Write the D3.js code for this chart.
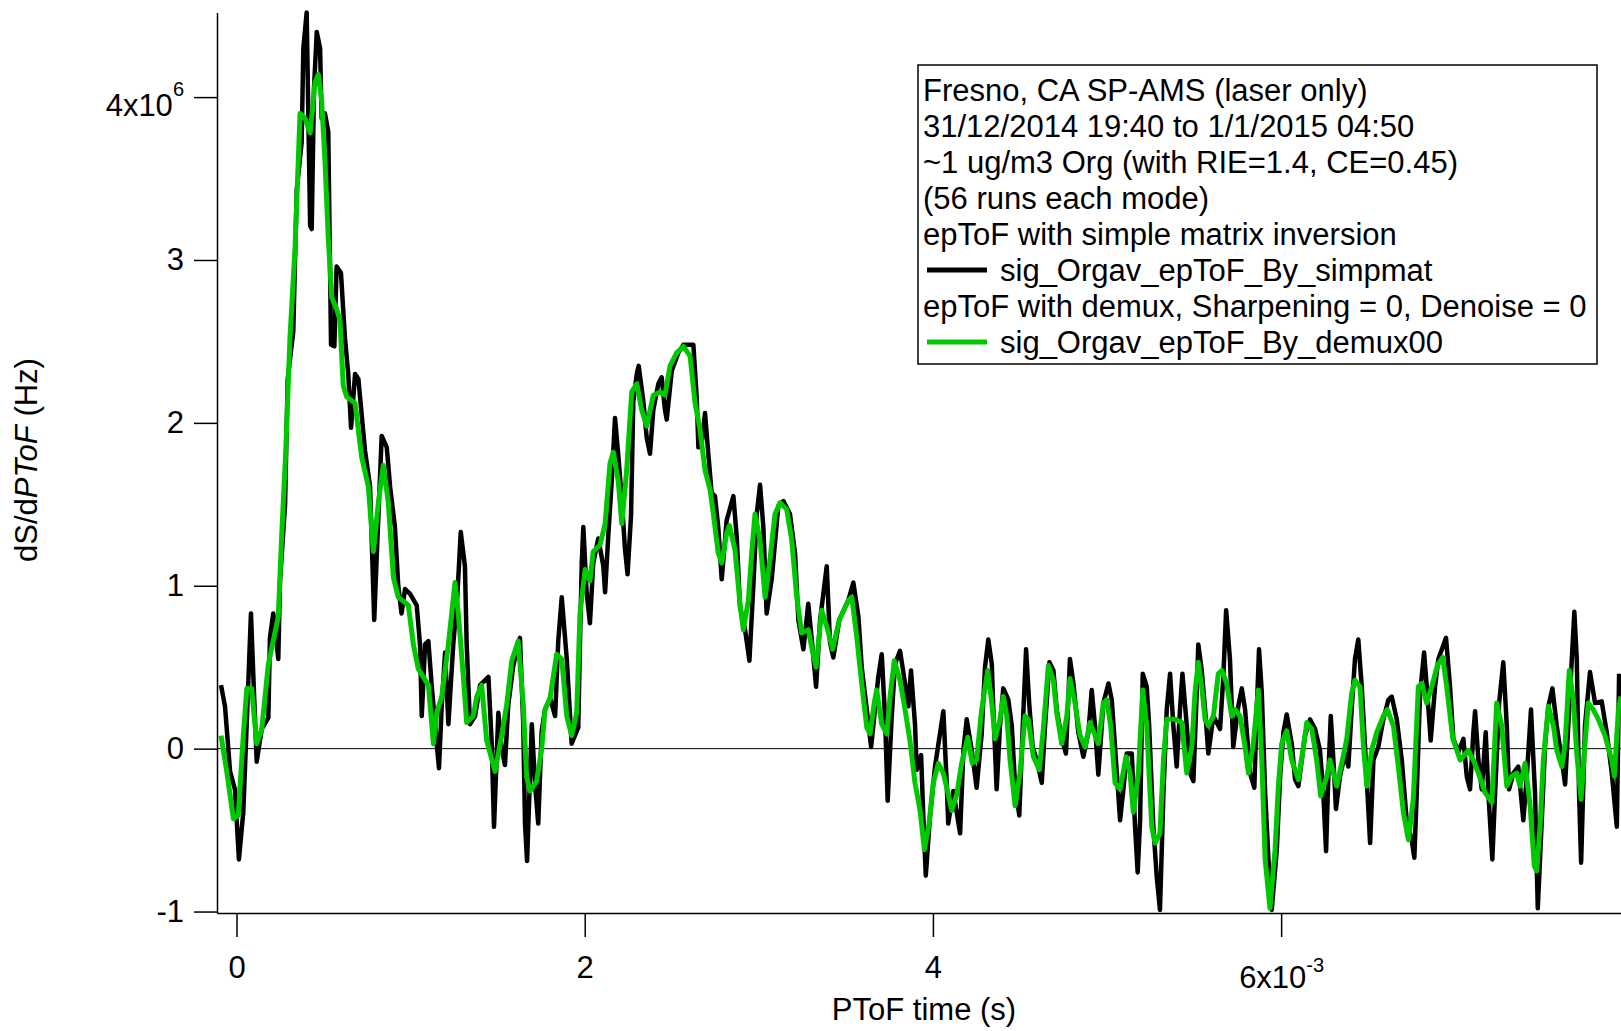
<!DOCTYPE html>
<html><head><meta charset="utf-8">
<script src="https://cdn.jsdelivr.net/npm/d3@7"></script>
<style>
body{margin:0;background:#fff;}
svg{display:block;font-family:"Liberation Sans",Arial,sans-serif;}
</style>
</head><body>
<svg id="c" width="1621" height="1031"></svg>
<script>
// PToF time in units of 1e-3 s, signal in units of 1e6 Hz
const simpmatX = [-0.089,-0.066,-0.037,-0.009,0.014,0.039,0.068,0.083,0.102,0.116,0.145,0.183,0.192,0.211,0.240,0.250,0.279,0.294,0.326,0.346,0.374,0.384,0.403,0.423,0.432,0.445,0.461,0.480,0.489,0.508,0.527,0.543,0.562,0.575,0.600,0.623,0.642,0.658,0.681,0.700,0.719,0.738,0.767,0.791,0.805,0.834,0.863,0.882,0.910,0.929,0.948,0.968,0.997,1.035,1.054,1.064,1.083,1.102,1.121,1.150,1.163,1.179,1.198,1.217,1.245,1.268,1.288,1.312,1.322,1.341,1.370,1.399,1.447,1.466,1.479,1.504,1.523,1.542,1.561,1.590,1.628,1.647,1.657,1.669,1.696,1.715,1.733,1.753,1.772,1.801,1.830,1.848,1.868,1.897,1.925,1.963,1.973,1.983,1.992,2.011,2.030,2.049,2.078,2.107,2.117,2.136,2.155,2.174,2.193,2.213,2.231,2.246,2.266,2.279,2.299,2.310,2.337,2.356,2.375,2.394,2.423,2.442,2.461,2.471,2.500,2.538,2.567,2.624,2.643,2.653,2.672,2.691,2.710,2.729,2.748,2.767,2.787,2.815,2.854,2.873,2.892,2.921,2.946,2.968,2.988,3.007,3.026,3.045,3.074,3.112,3.141,3.179,3.208,3.227,3.256,3.284,3.304,3.329,3.352,3.390,3.409,3.428,3.462,3.514,3.543,3.572,3.591,3.620,3.645,3.667,3.686,3.706,3.725,3.740,3.763,3.782,3.811,3.840,3.859,3.874,3.897,3.907,3.932,3.945,3.959,3.983,4.012,4.060,4.079,4.088,4.117,4.156,4.175,4.194,4.223,4.251,4.280,4.299,4.318,4.338,4.347,4.366,4.385,4.404,4.433,4.453,4.472,4.496,4.516,4.535,4.554,4.573,4.596,4.625,4.644,4.669,4.692,4.711,4.740,4.764,4.787,4.807,4.835,4.864,4.893,4.912,4.931,4.950,4.979,5.008,5.027,5.046,5.075,5.094,5.113,5.142,5.161,5.176,5.190,5.205,5.228,5.242,5.266,5.285,5.304,5.324,5.343,5.362,5.381,5.400,5.419,5.433,5.458,5.477,5.496,5.515,5.524,5.544,5.563,5.582,5.611,5.649,5.668,5.684,5.706,5.725,5.754,5.774,5.793,5.821,5.846,5.860,5.873,5.889,5.908,5.927,5.946,5.975,5.994,6.013,6.032,6.061,6.080,6.099,6.128,6.137,6.166,6.195,6.223,6.242,6.258,6.271,6.285,6.300,6.315,6.338,6.367,6.386,6.405,6.424,6.443,6.463,6.482,6.511,6.530,6.558,6.587,6.616,6.635,6.664,6.693,6.721,6.750,6.765,6.779,6.798,6.821,6.845,6.859,6.884,6.903,6.947,6.970,6.989,7.018,7.047,7.066,7.085,7.104,7.114,7.133,7.152,7.175,7.190,7.213,7.229,7.252,7.276,7.296,7.309,7.334,7.362,7.391,7.411,7.435,7.458,7.474,7.497,7.516,7.535,7.558,7.583,7.612,7.631,7.659,7.684,7.698,7.711,7.723,7.745,7.774,7.803,7.841,7.870,7.899,7.928,7.941];
const simpmatY = [0.39,0.26,-0.14,-0.25,-0.68,-0.39,0.41,0.83,0.30,-0.08,0.12,0.19,0.68,0.83,0.55,1.03,1.50,2.27,2.56,3.43,3.72,4.30,4.52,3.21,3.19,4.05,4.40,4.30,3.87,3.90,3.79,2.48,2.47,2.96,2.92,2.52,2.30,1.97,2.30,2.27,2.05,1.83,1.61,0.79,1.17,1.92,1.85,1.61,1.36,1.00,0.83,0.98,0.95,0.88,0.64,0.20,0.64,0.66,0.39,0.03,-0.12,0.27,0.59,0.15,0.64,0.93,1.33,1.12,0.64,0.15,0.20,0.39,0.44,0.03,-0.48,0.22,0.00,-0.10,0.27,0.51,0.68,0.15,-0.46,-0.69,0.15,-0.22,-0.46,0.11,0.24,0.31,0.20,0.66,0.93,0.55,0.03,0.13,0.66,1.14,1.36,0.96,0.77,1.14,1.29,1.12,0.96,1.32,1.64,2.03,1.80,1.53,1.23,1.07,1.43,2.13,2.30,2.35,2.13,1.91,1.81,2.08,2.24,2.28,2.08,2.02,2.32,2.43,2.48,2.48,2.16,1.85,1.87,2.06,1.81,1.57,1.55,1.36,1.04,1.40,1.55,1.30,0.87,0.73,0.54,0.99,1.44,1.62,1.36,0.83,1.04,1.49,1.52,1.44,1.20,0.79,0.61,0.89,0.67,0.38,0.79,1.12,0.65,0.56,0.79,0.91,1.02,0.81,0.50,0.24,0.01,0.24,0.44,0.58,0.19,-0.32,0.19,0.52,0.60,0.40,0.26,0.48,0.15,-0.13,-0.04,-0.42,-0.78,-0.42,-0.11,0.23,-0.21,-0.46,-0.26,-0.52,-0.01,0.18,-0.01,-0.24,0.09,0.50,0.67,0.52,0.24,-0.25,0.14,0.37,0.30,0.14,-0.23,-0.41,0.14,0.61,0.26,0.01,-0.07,-0.21,0.14,0.53,0.48,0.24,0.06,-0.03,0.55,0.40,0.10,-0.05,0.10,0.36,0.14,-0.16,0.28,0.40,0.30,0.01,-0.44,-0.25,-0.03,-0.03,-0.48,-0.76,-0.44,0.46,0.38,0.14,-0.48,-0.78,-0.99,-0.27,0.24,0.46,0.14,-0.11,0.24,0.46,0.14,-0.15,-0.20,0.34,0.64,0.48,0.24,-0.03,0.20,0.12,0.44,0.85,0.55,0.01,0.26,0.37,0.24,-0.15,-0.24,0.24,0.61,0.34,-0.27,-0.68,-0.99,-0.62,-0.17,0.10,0.21,0.03,-0.19,-0.23,0.01,0.08,0.18,0.12,-0.01,-0.27,-0.63,-0.17,0.20,-0.07,-0.37,-0.17,-0.03,-0.11,0.24,0.55,0.67,0.38,0.01,-0.58,-0.07,0.01,0.18,0.30,0.32,0.18,-0.07,-0.44,-0.56,-0.67,-0.27,0.34,0.59,0.26,0.05,0.38,0.55,0.68,0.38,0.06,-0.02,0.06,-0.17,-0.25,0.10,0.23,-0.07,-0.25,0.10,-0.27,-0.68,-0.27,0.28,0.53,0.14,-0.25,-0.15,-0.11,-0.44,-0.17,0.24,-0.27,-0.98,-0.44,0.03,0.26,0.37,0.14,-0.07,-0.22,0.34,0.84,0.55,-0.27,-0.70,0.14,0.47,0.28,0.29,0.10,-0.15,-0.48,0.46];

const demuxX = [-0.089,-0.056,-0.018,0.010,0.039,0.059,0.087,0.116,0.145,0.183,0.211,0.240,0.260,0.283,0.307,0.336,0.365,0.393,0.423,0.451,0.470,0.489,0.508,0.527,0.547,0.575,0.594,0.613,0.633,0.681,0.719,0.757,0.786,0.815,0.843,0.872,0.901,0.929,0.987,1.016,1.044,1.102,1.131,1.150,1.179,1.217,1.255,1.274,1.303,1.322,1.360,1.380,1.408,1.437,1.485,1.523,1.552,1.581,1.618,1.647,1.666,1.686,1.724,1.753,1.772,1.801,1.839,1.868,1.897,1.925,1.954,1.973,2.002,2.030,2.049,2.088,2.117,2.145,2.164,2.193,2.213,2.241,2.270,2.299,2.327,2.356,2.394,2.433,2.461,2.490,2.528,2.567,2.605,2.634,2.662,2.691,2.720,2.739,2.767,2.787,2.815,2.831,2.863,2.892,2.911,2.940,2.959,2.978,3.007,3.036,3.064,3.093,3.122,3.160,3.189,3.218,3.246,3.284,3.310,3.329,3.361,3.390,3.424,3.462,3.514,3.534,3.562,3.591,3.620,3.639,3.663,3.677,3.706,3.735,3.754,3.778,3.811,3.840,3.868,3.897,3.926,3.951,3.978,4.002,4.031,4.060,4.088,4.108,4.137,4.165,4.200,4.226,4.251,4.280,4.315,4.338,4.357,4.385,4.404,4.424,4.443,4.472,4.500,4.529,4.548,4.577,4.611,4.634,4.663,4.692,4.711,4.740,4.769,4.787,4.816,4.845,4.874,4.902,4.925,4.950,4.979,4.998,5.021,5.046,5.075,5.109,5.132,5.151,5.180,5.205,5.228,5.247,5.257,5.276,5.304,5.324,5.343,5.391,5.429,5.458,5.487,5.505,5.524,5.544,5.563,5.582,5.611,5.639,5.659,5.687,5.716,5.735,5.764,5.793,5.812,5.840,5.869,5.889,5.908,5.936,5.965,5.984,6.003,6.032,6.061,6.099,6.128,6.147,6.176,6.204,6.227,6.262,6.281,6.300,6.319,6.348,6.377,6.405,6.424,6.453,6.472,6.492,6.520,6.549,6.587,6.610,6.645,6.673,6.702,6.731,6.759,6.788,6.807,6.836,6.865,6.897,6.928,6.951,6.986,7.009,7.028,7.075,7.104,7.133,7.171,7.210,7.229,7.238,7.267,7.296,7.324,7.353,7.372,7.401,7.430,7.454,7.468,7.487,7.506,7.535,7.564,7.583,7.612,7.631,7.655,7.678,7.698,7.723,7.745,7.764,7.793,7.822,7.860,7.899,7.914,7.937,7.952];
const demuxY = [0.08,-0.14,-0.43,-0.41,0.08,0.37,0.37,0.03,0.12,0.52,0.66,0.81,1.32,1.83,2.52,3.07,3.90,3.87,3.78,4.09,4.14,3.98,3.61,3.14,2.77,2.70,2.63,2.23,2.16,2.12,1.79,1.61,1.21,1.51,1.74,1.51,1.05,0.93,0.88,0.64,0.49,0.39,0.03,0.22,0.32,0.64,1.02,0.83,0.44,0.16,0.20,0.32,0.39,0.05,-0.14,0.08,0.27,0.54,0.66,0.27,-0.17,-0.26,-0.20,0.00,0.24,0.31,0.58,0.55,0.20,0.08,0.22,0.83,1.10,1.03,1.21,1.25,1.38,1.75,1.82,1.64,1.38,1.71,2.19,2.24,2.08,1.98,2.17,2.19,2.17,2.35,2.43,2.47,2.41,2.12,1.96,1.71,1.59,1.44,1.20,1.14,1.32,1.37,1.22,0.89,0.73,0.91,1.20,1.44,1.28,0.93,1.16,1.44,1.51,1.47,1.28,0.93,0.71,0.73,0.59,0.50,0.85,0.75,0.61,0.79,0.91,0.93,0.69,0.40,0.13,0.09,0.28,0.36,0.15,0.09,0.32,0.54,0.42,0.24,0.05,-0.21,-0.38,-0.62,-0.46,-0.21,-0.09,-0.15,-0.28,-0.38,-0.28,-0.09,0.07,-0.09,-0.07,0.24,0.48,0.28,0.06,0.18,0.32,0.20,-0.07,-0.35,-0.15,0.20,0.18,-0.05,-0.13,0.12,0.51,0.42,0.22,0.03,0.20,0.43,0.28,0.08,0.01,0.16,0.10,0.03,0.28,0.30,0.14,-0.21,-0.25,-0.05,-0.15,-0.39,-0.15,0.36,0.14,-0.27,-0.48,-0.58,-0.52,-0.07,0.18,0.18,0.16,-0.15,0.01,0.34,0.53,0.38,0.18,0.14,0.20,0.46,0.48,0.40,0.20,0.24,0.20,0.01,-0.15,0.03,0.36,-0.07,-0.68,-0.98,-0.62,-0.23,0.03,0.11,-0.07,-0.19,0.01,0.16,0.12,-0.07,-0.29,-0.17,-0.07,-0.15,-0.23,-0.09,0.06,0.34,0.42,0.38,0.03,-0.23,-0.01,0.10,0.20,0.24,0.14,-0.11,-0.39,-0.56,-0.31,0.38,0.40,0.28,0.38,0.51,0.56,0.38,0.06,-0.01,-0.07,-0.01,-0.07,-0.15,-0.27,-0.33,0.08,0.28,0.14,-0.23,-0.17,-0.15,-0.23,-0.09,-0.35,-0.72,-0.75,-0.48,-0.07,0.26,0.14,-0.01,-0.11,0.03,0.48,0.30,-0.03,-0.31,0.03,0.28,0.24,0.18,0.08,-0.07,-0.17,0.24,0.32];

const xTicks = [0, 2, 4, 6];
const xTickLabels = ["0", "2", "4", "6x10"];
const xTickExps = ["", "", "", "-3"];
const yTicks = [-1, 0, 1, 2, 3, 4];
const yTickLabels = ["-1", "0", "1", "2", "3", "4x10"];
const yTickExps = ["", "", "", "", "", "6"];

const legendHeader = ["Fresno, CA SP-AMS (laser only)", "31/12/2014 19:40 to 1/1/2015 04:50", "~1 ug/m3 Org (with RIE=1.4, CE=0.45)", "(56 runs each mode)"];
const seriesNames = ["sig_Orgav_epToF_By_simpmat", "sig_Orgav_epToF_By_demux00"];
const seriesNotes = ["epToF with simple matrix inversion", "epToF with demux, Sharpening = 0, Denoise = 0"];
const seriesColors = ["#000000", "#00c800"];

const FS = 31;
const svg = d3.select("#c");
const x = d3.scaleLinear().domain([-0.112, 7.952]).range([217, 1621]);
const y = d3.scaleLinear().domain([-1.009, 4.52]).range([913, 12.4]);

// zero line
svg.append("line")
  .attr("x1", x.range()[0]).attr("x2", x.range()[1])
  .attr("y1", y(0)).attr("y2", y(0))
  .attr("stroke", "#000").attr("stroke-width", 1);

const seriesData = [
  simpmatX.map((v, i) => ({x: v, y: simpmatY[i]})),
  demuxX.map((v, i) => ({x: v, y: demuxY[i]}))
];
const widths = [4.5, 5];
const line = d3.line().x(d => x(d.x)).y(d => y(d.y));
seriesData.forEach((s, i) => {
  svg.append("path").datum(s).attr("d", line)
    .attr("fill", "none").attr("stroke", seriesColors[i])
    .attr("stroke-width", widths[i]).attr("stroke-linejoin", "round");
});

// Y axis
const gy = svg.append("g").attr("transform", "translate(217,0)")
  .call(d3.axisLeft(y).tickValues(yTicks).tickSize(23).tickSizeOuter(0).tickPadding(10)
    .tickFormat((d, i) => yTickLabels[i]));
gy.attr("font-size", FS).attr("font-family", '"Liberation Sans",Arial,sans-serif');
gy.select(".domain").attr("stroke-width", 1.5);
gy.selectAll(".tick line").attr("stroke-width", 1.5);
gy.selectAll(".tick text").attr("fill", "#000").each(function(d, i) {
  if (yTickExps[i]) {
    const t = d3.select(this);
    t.text(null).attr("dy", "0.6em");
    t.append("tspan").text(yTickLabels[i]);
    t.append("tspan").attr("font-size", 20).attr("dy", -20).text(yTickExps[i]);
  }
});

// X axis
const gx = svg.append("g").attr("transform", "translate(0,913)")
  .call(d3.axisBottom(x).tickValues(xTicks).tickSize(24).tickSizeOuter(0).tickPadding(19)
    .tickFormat((d, i) => xTickLabels[i]));
gx.attr("font-size", FS).attr("font-family", '"Liberation Sans",Arial,sans-serif');
gx.select(".domain").attr("stroke-width", 1.5);
gx.selectAll(".tick line").attr("stroke-width", 1.5);
gx.selectAll(".tick text").attr("fill", "#000").each(function(d, i) {
  if (xTickExps[i]) {
    const t = d3.select(this);
    t.text(null).attr("y", 53);
    t.append("tspan").text(xTickLabels[i]);
    t.append("tspan").attr("font-size", 20).attr("dy", -16).text(xTickExps[i]);
  }
});

// axis titles
svg.append("text").attr("x", 924).attr("y", 1020).attr("text-anchor", "middle")
  .attr("font-size", FS).attr("fill", "#000").text("PToF time (s)");
const yt = svg.append("text").attr("transform", "translate(37,460) rotate(-90)")
  .attr("text-anchor", "middle").attr("font-size", FS).attr("fill", "#000");
yt.append("tspan").text("dS/d");
yt.append("tspan").attr("font-style", "italic").text("PToF");
yt.append("tspan").text(" (Hz)");

// legend
const lg = svg.append("g");
lg.append("rect").attr("x", 918).attr("y", 65).attr("width", 679).attr("height", 299)
  .attr("fill", "#fff").attr("stroke", "#000").attr("stroke-width", 1.5);
const rows = [];
legendHeader.forEach(t => rows.push({text: t}));
seriesNotes.forEach((n, i) => { rows.push({text: n}); rows.push({text: seriesNames[i], color: seriesColors[i]}); });
rows.forEach((r, i) => {
  const base = 101 + i * 36;
  if (r.color) {
    lg.append("line").attr("x1", 927).attr("x2", 987).attr("y1", base - 11).attr("y2", base - 11)
      .attr("stroke", r.color).attr("stroke-width", 5);
    lg.append("text").attr("x", 1000).attr("y", base).attr("font-size", FS).attr("fill", "#000").text(r.text);
  } else {
    lg.append("text").attr("x", 923).attr("y", base).attr("font-size", FS).attr("fill", "#000").text(r.text);
  }
});
</script>
</body></html>
